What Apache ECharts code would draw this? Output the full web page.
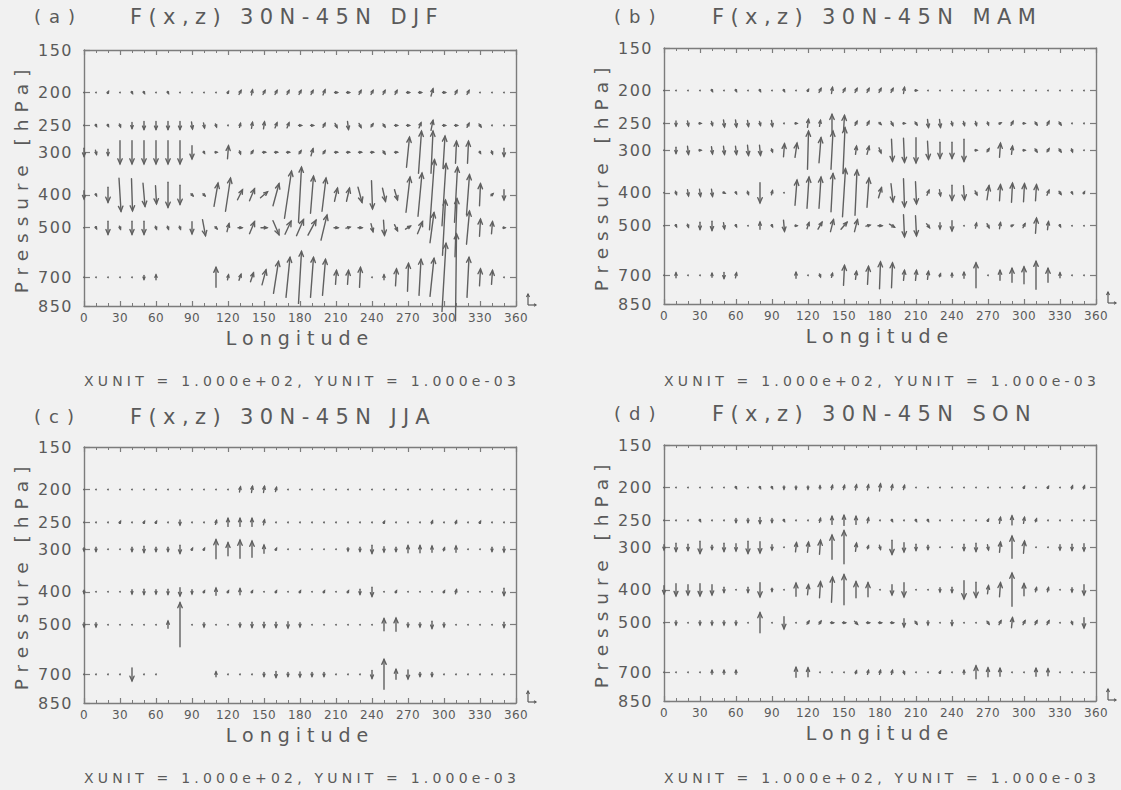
<!DOCTYPE html>
<html>
<head>
<meta charset="utf-8">
<script src="https://cdn.jsdelivr.net/npm/echarts@6/dist/echarts.min.js"></script>
<style>
  html, body { margin: 0; padding: 0; background: #f1f1f1; }
  #chart { width: 1121px; height: 790px; }
</style>
</head>
<body>
<div id="chart"></div>
<script>
// Grid of the flux vectors: longitude (deg E) and pressure level (hPa)
const LONGITUDES = [0,10,20,30,40,50,60,70,80,90,100,110,120,130,140,150,160,170,
                    180,190,200,210,220,230,240,250,260,270,280,290,300,310,320,330,340,350];
const LEVELS = [200, 250, 300, 400, 500, 700];
const PRESSURE_TICKS = [150, 200, 250, 300, 400, 500, 700, 850];

// Each row: [Fx, Fz] per longitude (Fx eastward, Fz upward), null where below ground
const djf200 = [[0,0],[1,0.5],[1,2],[1,0.5],[1,-2],[1,-2],[1,0],[1,-2],[1,0],[1,0],
  [1,0],[1,0],[1,2],[2,4],[1,5],[2,4],[2,4],[2,4],[2,4],[2,4],
  [2,5],[3,0],[3,0],[2,4],[2,4],[2,4],[2,4],[3,0],[3,0],[2,7],
  [3,0],[2,4],[2,4],[1,0],[1,0],[1,0]];
const djf250 = [[0,0],[1,-2],[1,-2],[1,-3],[0,-6],[0,-8],[0,-8],[0,-8],[0,-8],[1,-7],
  [1,-5],[1,-3],[1,0],[1,4],[1,6],[1,7],[2,5],[2,5],[3,0],[3,0],
  [2,4],[2,-4],[1,-8],[2,-4],[2,3],[2,-3],[3,0],[3,0],[2,5],[2,10],
  [3,0],[3,0],[2,4],[2,-3],[1,-1],[1,0]];
const djf300 = [[0,-8],[1,-4],[0,-6],[0,-23],[0,-23],[0,-23],[0,-23],[0,-23],[0,-23],[0,-13],
  [1,-2],[2,0],[1,13],[1,-3],[2,3],[3,0],[3,0],[3,0],[2,3],[2,7],
  [2,3],[3,0],[3,0],[3,0],[3,0],[2,-3],[3,0],[3,30],[3,42],[2,42],
  [2,32],[1,22],[1,22],[1,-2],[1,-3],[0,-8]];
const djf400 = [[0,-8],[1,-2],[0,-15],[2,-33],[1,-32],[2,-23],[1,-18],[0,-25],[0,-19],[2,-2],
  [2,-2],[4,23],[5,33],[5,10],[5,12],[7,6],[6,22],[7,47],[3,55],[3,37],
  [4,33],[3,13],[3,13],[4,-15],[1,-28],[3,-13],[3,-10],[4,35],[4,43],[5,70],
  [4,62],[3,55],[3,40],[1,22],[2,2],[0,-10]];
const djf500 = [[0,0],[1,-2],[0,-13],[1,-3],[0,-13],[0,-13],[1,-3],[1,-3],[1,-3],[0,-12],
  [3,-16],[2,-2],[2,8],[4,0],[5,12],[6,0],[6,-14],[6,13],[7,16],[8,15],
  [6,25],[4,0],[4,1],[4,0],[2,-8],[1,-15],[3,-6],[5,3],[5,12],[4,30],
  [3,55],[2,58],[3,33],[1,17],[1,12],[2,0]];
const djf700 = [[1,0],[1,0],[1,0],[1,0],[1,0],[0,-4],[0,5],null,null,null,
  null,[0,20],[1,5],[2,6],[3,9],[4,15],[5,32],[4,40],[3,52],[3,40],
  [3,36],[1,14],[1,14],[1,20],[1,0],[0,5],[1,17],[1,28],[2,36],[4,38],
  [4,68],[1,87],[2,40],[1,17],[1,14],[1,0]];

const mam200 = [[0,0],[1,0],[1,0],[1,0],[1,-2],[1,0],[1,-2],[1,0],[1,-2],[1,0],
  [1,-2],[1,0],[1,2],[2,4],[1,6],[2,4],[2,4],[2,4],[2,4],[2,4],
  [1,6],[2,0],[1,0],[1,1],[1,0],[1,0],[1,-1],[1,0],[1,1],[1,0],
  [1,1],[1,0],[1,-1],[1,0],[1,0],[1,0]];
const mam250 = [[0,0],[0,-5],[1,-5],[2,0],[1,-4],[1,-7],[1,-7],[1,-6],[1,-4],[1,-6],
  [1,-1],[2,0],[1,8],[1,6],[0,18],[1,16],[2,4],[2,4],[2,-2],[2,-4],
  [2,0],[2,-3],[1,-8],[1,-8],[1,-4],[1,-4],[1,-4],[1,-3],[2,1],[2,4],
  [2,0],[2,-3],[2,4],[2,-3],[1,0],[1,0]];
const mam300 = [[0,0],[0,-6],[1,-8],[2,0],[1,-7],[1,-8],[1,-8],[1,-10],[1,-10],[1,-3],
  [1,13],[2,14],[1,38],[2,25],[2,38],[2,45],[1,8],[2,8],[2,-5],[1,-22],
  [1,-24],[0,-25],[1,-18],[0,-16],[0,-16],[0,-22],[2,0],[2,3],[1,14],[1,8],
  [2,0],[2,-3],[2,3],[2,-3],[1,-3],[1,0]];
const mam400 = [[0,0],[1,-3],[1,-6],[1,-7],[1,-7],[2,-1],[1,-2],[1,-3],[0,-20],[1,4],
  [1,0],[2,25],[2,31],[2,31],[2,38],[3,48],[2,45],[2,29],[3,10],[2,-18],
  [1,-28],[1,-22],[2,5],[1,-6],[0,-15],[1,-14],[2,-4],[2,14],[1,16],[1,19],
  [1,18],[1,16],[2,5],[2,-3],[1,-2],[1,2]];
const mam500 = [[0,0],[1,-2],[1,-3],[0,-7],[0,-9],[1,-6],[1,-2],[1,0],[0,7],[1,-2],
  [1,-11],[2,0],[2,6],[4,7],[3,12],[6,7],[3,12],[4,1],[4,0],[5,-3],
  [1,-22],[1,-20],[3,-4],[0,-6],[0,-10],[1,0],[1,5],[2,-4],[1,6],[2,1],
  [2,4],[1,15],[1,8],[1,-2],[1,0],[1,0]];
const mam700 = [[0,0],[0,5],[1,0],[1,0],[0,4],[0,-6],[1,5],null,null,null,
  null,[0,6],[1,0],[1,-3],[1,4],[1,20],[1,8],[1,18],[1,27],[1,25],
  [1,10],[1,10],[1,8],[1,3],[0,4],[0,6],[0,25],[1,0],[0,10],[0,14],
  [0,17],[0,28],[0,14],[0,5],[1,0],[1,0]];

const jja200 = [[0,0],[1,0],[1,0],[1,0],[1,0],[1,0],[1,0],[1,0],[1,1],[1,0],
  [1,0],[1,0],[1,1],[1,5],[1,6],[1,6],[1,4],[1,0],[1,0],[1,0],
  [1,0],[1,0],[1,0],[1,0],[1,0],[1,0],[1,0],[1,0],[1,0],[1,1],
  [1,0],[1,0],[1,0],[1,0],[1,0],[1,0]];
const jja250 = [[0,0],[1,0],[1,0],[1,2],[1,0],[1,2],[1,2],[1,0],[0,-5],[1,0],
  [1,0],[1,4],[0,8],[0,8],[0,8],[1,5],[1,0],[1,0],[1,0],[1,0],
  [1,0],[1,0],[1,0],[1,0],[1,0],[1,2],[1,0],[1,0],[1,0],[1,3],
  [1,0],[1,3],[1,0],[1,2],[1,0],[1,0]];
const jja300 = [[0,-3],[0,-4],[1,0],[1,0],[0,-4],[0,-6],[0,-4],[0,-4],[0,-8],[1,2],
  [1,2],[0,19],[0,13],[0,18],[0,16],[0,8],[1,2],[1,0],[1,0],[1,0],
  [1,0],[1,0],[0,-3],[0,-4],[0,-8],[0,-5],[0,-4],[0,7],[0,7],[0,6],
  [1,3],[0,6],[1,0],[1,0],[0,-4],[0,-5]];
const jja400 = [[0,-3],[1,0],[1,0],[1,0],[0,-4],[0,-5],[0,-4],[0,-5],[0,-8],[0,-4],
  [1,2],[0,7],[1,2],[0,6],[1,2],[1,0],[1,2],[1,0],[1,2],[1,0],
  [1,2],[1,0],[1,2],[0,-5],[0,-9],[1,0],[1,2],[1,0],[1,0],[1,0],
  [1,2],[1,4],[1,0],[1,0],[1,0],[0,-7]];
const jja500 = [[0,-4],[0,-4],[1,0],[1,0],[1,0],[1,0],[1,0],[0,7],[0,44],[1,0],
  [0,-4],[1,0],[1,0],[0,-4],[0,-5],[0,-5],[0,-5],[0,-6],[0,-4],[1,0],
  [1,0],[1,0],[1,0],[1,0],[1,0],[0,12],[0,13],[0,-4],[0,-4],[0,-7],
  [0,-4],[1,0],[1,0],[1,0],[1,0],[0,-5]];
const jja700 = [[1,0],[1,0],[1,0],[1,0],[0,-13],[1,0],[1,0],null,null,null,
  null,[0,5],[1,0],[1,0],[1,0],[0,-4],[0,-6],[0,-4],[0,-5],[0,-4],
  [0,-4],[1,0],[1,0],[1,0],[0,-8],[0,30],[0,10],[0,-9],[0,-4],[0,-4],
  [1,0],[1,0],[1,0],[1,0],[1,0],[1,0]];

const son200 = [[0,0],[1,0],[1,0],[1,0],[1,0],[1,0],[1,-2],[1,0],[1,-2],[1,-2],
  [0,-3],[0,-3],[0,-3],[0,3],[1,4],[1,4],[1,5],[1,5],[1,7],[1,5],
  [1,4],[1,0],[1,0],[1,0],[1,0],[1,0],[1,0],[1,0],[1,0],[1,0],
  [1,2],[1,0],[1,2],[1,0],[1,3],[1,3]];
const son250 = [[0,0],[1,0],[1,0],[1,-2],[1,0],[1,0],[0,-4],[0,-4],[0,-6],[0,-4],
  [1,-2],[1,0],[1,1],[1,4],[0,8],[0,10],[0,8],[1,5],[1,0],[1,-2],
  [1,0],[1,-2],[1,-2],[1,0],[1,0],[1,0],[1,0],[1,2],[1,6],[0,9],
  [1,6],[1,3],[1,0],[1,0],[1,0],[1,0]];
const son300 = [[0,-5],[0,-8],[0,-6],[0,-12],[0,-4],[0,-8],[0,-7],[0,-12],[0,-11],[0,-5],
  [1,0],[1,9],[1,10],[1,14],[0,24],[0,33],[1,8],[1,3],[1,-4],[0,-14],
  [0,-9],[0,-6],[0,-4],[1,0],[1,0],[0,-6],[0,-8],[1,-5],[1,10],[0,22],
  [1,12],[1,0],[1,0],[0,-5],[0,-6],[0,-7]];
const son400 = [[0,-8],[0,-12],[0,-10],[0,-12],[0,-10],[0,-5],[1,0],[0,-5],[0,-14],[0,-3],
  [1,0],[0,13],[1,10],[1,16],[1,25],[0,30],[0,16],[0,14],[1,0],[0,-10],
  [0,-14],[1,0],[1,0],[0,-4],[0,-5],[0,-18],[0,-15],[1,8],[1,14],[0,33],
  [0,12],[1,4],[1,4],[1,0],[0,-4],[0,-10]];
const son500 = [[0,0],[0,-4],[1,0],[0,-4],[0,-4],[0,-4],[0,-4],[1,0],[0,20],[1,0],
  [0,-12],[1,0],[2,3],[2,3],[3,0],[3,0],[3,-3],[3,0],[3,0],[3,0],
  [0,-8],[2,-3],[0,-4],[1,0],[0,-5],[1,0],[1,0],[2,-3],[2,4],[1,10],
  [2,4],[2,4],[2,4],[1,0],[1,-3],[0,-10]];
const son700 = [[1,0],[1,0],[1,0],[1,0],[0,4],[0,4],[0,4],null,null,null,
  null,[0,10],[0,9],[1,0],[1,0],[1,0],[1,3],[1,4],[1,4],[1,4],
  [1,-3],[1,0],[1,0],[1,2],[1,0],[0,4],[0,13],[0,9],[0,8],[1,0],
  [1,0],[0,8],[0,7],[1,0],[1,0],[1,0]];

const PANELS = [
  { tag: '(a)', title: 'F(x,z) 30N-45N DJF', rows: [djf200, djf250, djf300, djf400, djf500, djf700] },
  { tag: '(b)', title: 'F(x,z) 30N-45N MAM', rows: [mam200, mam250, mam300, mam400, mam500, mam700] },
  { tag: '(c)', title: 'F(x,z) 30N-45N JJA', rows: [jja200, jja250, jja300, jja400, jja500, jja700] },
  { tag: '(d)', title: 'F(x,z) 30N-45N SON', rows: [son200, son250, son300, son400, son500, son700] }
];
const UNIT_TEXT = 'XUNIT = 1.000e+02, YUNIT = 1.000e-03';

// Plot boxes (pixels) and text placement
const BOX = [
  { left: 84,  top: 50,  tagX: 34,  titleX: 130, titleY: 18,  unitY: 381 },
  { left: 664, top: 48,  tagX: 614, titleX: 712, titleY: 18,  unitY: 381 },
  { left: 84,  top: 447, tagX: 34,  titleX: 130, titleY: 418, unitY: 778 },
  { left: 664, top: 445, tagX: 614, titleX: 712, titleY: 415, unitY: 778 }
];
const BOX_W = 432, BOX_H = 256;

const FONT = "'DejaVu Sans', sans-serif";
const TEXT = '#5a5a5a';
const AXIS = '#7c7c7c';
const ARROW = '#606060';
const VSCALE = 1;

const lnTicks = PRESSURE_TICKS.map(Math.log);

function arrowItem(params, api) {
  const c = api.coord([api.value(0), api.value(1)]);
  const u = api.value(2) * VSCALE, w = api.value(3) * VSCALE;
  const len = Math.hypot(u, w);
  if (len < 1.6) {
    return { type: 'circle', shape: { cx: c[0], cy: c[1], r: 0.9 }, style: { fill: ARROW } };
  }
  const tip = [c[0] + u / 2, c[1] - w / 2];
  const tail = [c[0] - u / 2, c[1] + w / 2];
  const ang = Math.atan2(tip[1] - tail[1], tip[0] - tail[0]);
  const h = Math.min(5.5, 1.2 + len * 0.3);
  const a = 0.42;
  const st = { stroke: ARROW, lineWidth: 1.4, fill: null, lineCap: 'round' };
  return {
    type: 'group',
    children: [
      { type: 'line', shape: { x1: tail[0], y1: tail[1], x2: tip[0], y2: tip[1] }, style: st },
      { type: 'polyline', shape: { points: [
          [tip[0] - h * Math.cos(ang - a), tip[1] - h * Math.sin(ang - a)],
          tip,
          [tip[0] - h * Math.cos(ang + a), tip[1] - h * Math.sin(ang + a)]
        ] }, style: st }
    ]
  };
}

const grid = [], xAxis = [], yAxis = [], series = [], graphic = [];

PANELS.forEach((p, i) => {
  const b = BOX[i];
  grid.push({ left: b.left, top: b.top, width: BOX_W, height: BOX_H, outerBoundsMode: 'none' });

  const xCommon = {
    gridIndex: i, type: 'value', min: 0, max: 360, interval: 30,
    axisLine: { show: true, onZero: false, lineStyle: { color: AXIS, width: 1.4 } },
    axisTick: { show: true, inside: true, length: 5, lineStyle: { color: AXIS, width: 1.2 } },
    minorTick: { show: true, splitNumber: 3, length: 3, lineStyle: { color: AXIS, width: 1 } },
    splitLine: { show: false }, minorSplitLine: { show: false }
  };
  xAxis.push(Object.assign({}, xCommon, {
    position: 'bottom',
    axisLabel: { fontSize: 12, color: TEXT, margin: 6, fontFamily: FONT },
    name: 'Longitude', nameLocation: 'middle', nameGap: 22,
    nameTextStyle: { fontSize: 19, color: TEXT, fontFamily: FONT }
  }));
  xAxis.push(Object.assign({}, xCommon, { position: 'top', axisLabel: { show: false } }));

  const yCommon = {
    gridIndex: i, type: 'value', inverse: true,
    min: Math.log(PRESSURE_TICKS[0]), max: Math.log(PRESSURE_TICKS[PRESSURE_TICKS.length - 1]),
    axisLine: { show: true, onZero: false, lineStyle: { color: AXIS, width: 1.4 } },
    axisTick: { show: true, inside: true, length: 6, customValues: lnTicks, lineStyle: { color: AXIS, width: 1.2 } },
    splitLine: { show: false }
  };
  yAxis.push(Object.assign({}, yCommon, {
    position: 'left',
    axisLabel: { customValues: lnTicks, formatter: v => String(Math.round(Math.exp(v))),
                 fontSize: 16, color: TEXT, margin: 11, fontFamily: FONT },
    name: 'Pressure [hPa]', nameLocation: 'middle', nameGap: 53, nameRotate: 90,
    nameTextStyle: { fontSize: 18.5, color: TEXT, fontFamily: FONT }
  }));
  yAxis.push(Object.assign({}, yCommon, { position: 'right', axisLabel: { show: false } }));

  const data = [];
  p.rows.forEach((row, k) => {
    row.forEach((v, j) => {
      if (v) data.push([LONGITUDES[j], Math.log(LEVELS[k]), v[0], v[1]]);
    });
  });
  series.push({
    type: 'custom', xAxisIndex: 2 * i, yAxisIndex: 2 * i,
    renderItem: arrowItem, data: data, clip: false, silent: true, animation: false
  });

  // Panel letter, title and unit line
  graphic.push({ type: 'text', left: b.tagX, top: b.titleY - 11,
    style: { text: p.tag, fill: TEXT, font: '18px ' + FONT } });
  graphic.push({ type: 'text', left: b.titleX, top: b.titleY - 12,
    style: { text: p.title, fill: TEXT, font: '21px ' + FONT } });
  graphic.push({ type: 'text', x: b.left + BOX_W / 2 + 2, y: b.unitY,
    style: { text: UNIT_TEXT, fill: TEXT, font: '14px ' + FONT, textAlign: 'center', textVerticalAlign: 'middle' } });

  // Reference vector key beside the lower right corner
  const kx = b.left + BOX_W + 12, ky = b.top + BOX_H - 1;
  const ks = { stroke: TEXT, lineWidth: 1.2, fill: null };
  graphic.push({ type: 'polyline', shape: { points: [[kx, ky], [kx, ky - 11]] }, style: ks });
  graphic.push({ type: 'polyline', shape: { points: [[kx - 1.5, ky - 8], [kx, ky - 11], [kx + 1.5, ky - 8]] }, style: ks });
  graphic.push({ type: 'polyline', shape: { points: [[kx, ky], [kx + 8, ky]] }, style: ks });
  graphic.push({ type: 'polyline', shape: { points: [[kx + 6, ky - 1.3], [kx + 8, ky], [kx + 6, ky + 1.3]] }, style: ks });
});

const chart = echarts.init(document.getElementById('chart'), null, { renderer: 'svg' });
chart.setOption({
  backgroundColor: '#f1f1f1',
  animation: false,
  textStyle: { fontFamily: FONT },
  grid, xAxis, yAxis, series, graphic
});

// Stroke-font style letter spacing, keyed by text size
const SPACING = { 12: 0.3, 14: 4.2, 16: 1.5, 18: 8, 18.5: 7, 19: 6, 21: 6.4 };
function spaceLetters() {
  document.querySelectorAll('#chart text').forEach(t => {
    const fs = parseFloat(getComputedStyle(t).fontSize);
    const sp = SPACING[fs];
    if (sp) t.style.letterSpacing = sp + 'px';
  });
}
spaceLetters();
chart.on('finished', spaceLetters);
</script>
</body>
</html>
